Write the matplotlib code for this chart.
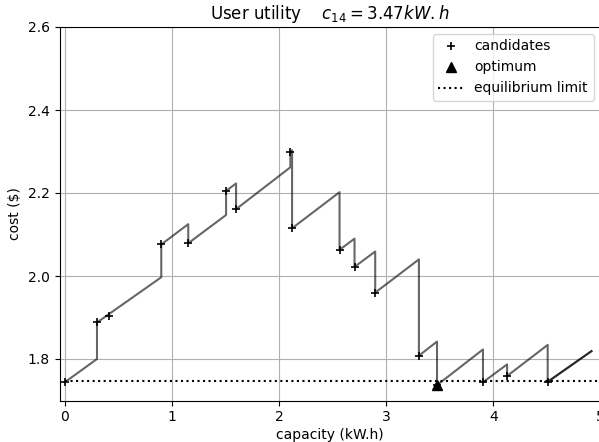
import matplotlib
matplotlib.use("Agg")
import matplotlib.pyplot as plt

# Cost curve (sawtooth path)
path_x = [0.0, 0.30, 0.30, 0.90, 0.90, 1.152, 1.152, 1.505, 1.505, 1.598, 1.598,
          2.105, 2.105, 2.121, 2.121, 2.564, 2.564, 2.704, 2.704, 2.897, 2.897,
          3.305, 3.305, 3.474, 3.474, 3.903, 3.903, 4.128, 4.128, 4.507, 4.507, 4.916]
path_y = [1.744, 1.800, 1.888, 1.997, 2.076, 2.125, 2.079, 2.147, 2.205, 2.223, 2.161,
          2.262, 2.300, 2.303, 2.115, 2.202, 2.063, 2.090, 2.022, 2.059, 1.960,
          2.040, 1.808, 1.842, 1.737, 1.823, 1.744, 1.787, 1.759, 1.834, 1.745, 1.819]

# Candidates
cand_x = [0.0, 0.30, 0.414, 0.90, 1.152, 1.505, 1.598, 2.105, 2.121, 2.564, 2.704,
          2.897, 3.305, 3.474, 3.903, 4.128, 4.507]
cand_y = [1.744, 1.888, 1.904, 2.076, 2.079, 2.205, 2.161, 2.300, 2.115, 2.063, 2.022,
          1.960, 1.808, 1.737, 1.744, 1.759, 1.745]

# Optimum
opt_x = [3.474]
opt_y = [1.737]

# Equilibrium limit
eq_limit = 1.748
eq_x = [0.0, 5.0]

DPI = 100
fig = plt.figure(figsize=(599 / DPI, 442 / DPI), dpi=DPI)
ax = fig.add_axes([59.5 / 599, 1 - 400.5 / 442, (600.5 - 59.5) / 599, (400.5 - 27) / 442])

ax.plot(path_x, path_y, color='k', alpha=0.6, lw=1.5, zorder=2)
ax.plot(path_x[-2:], path_y[-2:], color='k', alpha=0.6, lw=1.5, zorder=2)
ax.plot(cand_x, cand_y, 'k+', ms=6, mew=1.2, label='candidates', zorder=3)
ax.plot(opt_x, opt_y, 'k^', ms=7, label='optimum', zorder=4)
ax.plot(eq_x, [eq_limit, eq_limit], 'k:', lw=1.5, label='equilibrium limit', zorder=2)

ax.set_xlim(-0.05, 5.0)
ax.set_ylim(1.7, 2.6)
ax.set_xticks([0, 1, 2, 3, 4, 5])
ax.set_yticks([1.8, 2.0, 2.2, 2.4, 2.6])
ax.grid(True)
ax.set_axisbelow(True)
ax.set_xlabel('capacity (kW.h)', labelpad=2.5)
ax.set_ylabel(r'cost (\$)')
ax.set_title(r'User utility    $c_{14} = 3.47kW.h$')
ax.legend(loc='upper right', handlelength=1.8)

fig.savefig('out.png', dpi=DPI)
